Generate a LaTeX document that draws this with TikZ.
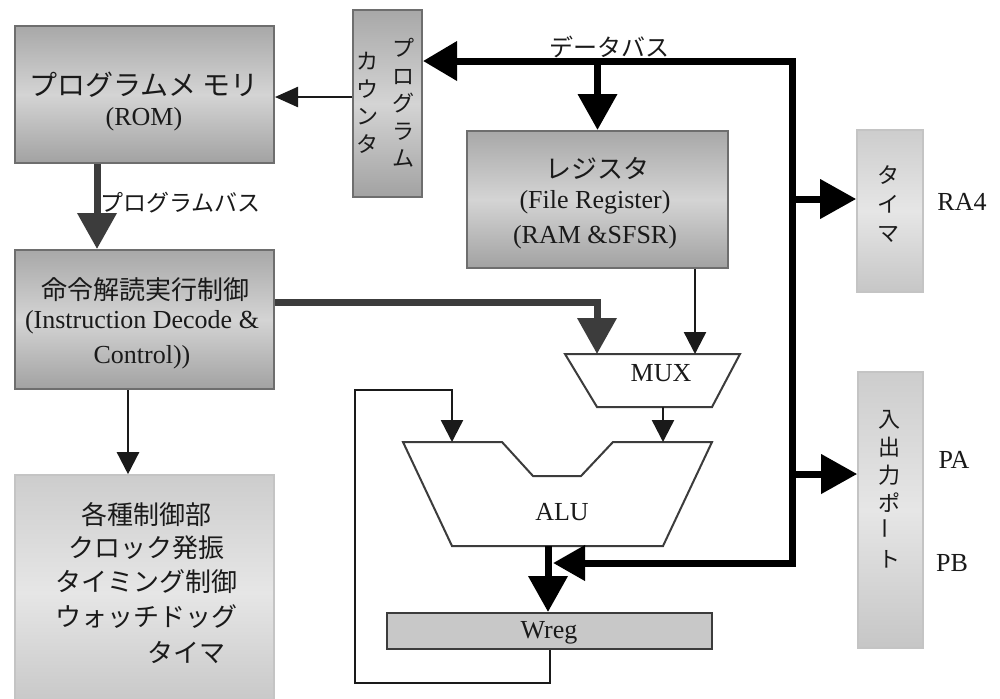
\documentclass[tikz,border=0pt]{standalone}
\usepackage{fontspec}
\usepackage{graphicx}
\setmainfont{Liberation Serif}
\newfontfamily\jp{Noto Sans CJK JP}
\usetikzlibrary{arrows.meta,fit}
\definecolor{ink}{HTML}{1A1A1A}
\definecolor{edge}{HTML}{6E6E6E}
\definecolor{lightedge}{HTML}{C4C4C4}
\definecolor{busgray}{HTML}{3C3C3C}
\definecolor{wregfill}{HTML}{C8C8C8}
\definecolor{dtop}{HTML}{A8A8A8}
\definecolor{dmid}{HTML}{D4D4D4}
\definecolor{dbot}{HTML}{A2A2A2}
\definecolor{ltop}{HTML}{CDCDCD}
\definecolor{lmid}{HTML}{E6E6E6}
\definecolor{lbot}{HTML}{C6C6C6}
\begin{document}
\begin{tikzpicture}[x=0.5pt,y=-0.5pt,
  darkbox/.style={draw=edge,line width=1pt,top color=dtop,bottom color=dbot,middle color=dmid,inner sep=0pt},
  lightbox/.style={draw=lightedge,line width=0.8pt,top color=ltop,bottom color=lbot,middle color=lmid,inner sep=0pt},
  jpt/.style={font=\jp\fontsize{13pt}{13pt}\selectfont,text=ink,inner sep=0pt},
  ent/.style={font=\fontsize{13pt}{13pt}\selectfont,text=ink,inner sep=0pt},
  vjp/.style={font=\jp\fontsize{11pt}{14pt}\selectfont,text=ink,align=center,inner sep=0pt},
  thinarrow/.style={draw=ink,line width=1.2pt,-{Triangle[length=11pt,width=11pt]}},
  thinline/.style={draw=ink,line width=1.2pt},
  bus/.style={draw=black,line width=3.5pt},
  gbus/.style={draw=busgray,line width=3.5pt},
  bigtip/.style={-{Triangle[length=18pt,width=19pt]}},
  unitshape/.style={draw=busgray,line width=1pt,fill=white,line join=miter},
]
\useasboundingbox (0,0) rectangle (1000,698);
\fill[white] (0,0) rectangle (1000,698);
\clip (0,0) rectangle (1000,698);

% boxes
\node[darkbox,fit={(15,26)(274,163)}] (rom) {};
\node[jpt,font=\jp\fontsize{14pt}{14pt}\selectfont] (romt1) at (144,85) {プログラムメ\hspace{3pt}モリ};
\node[ent] (romt2) at (144,119) {(ROM)};

\node[darkbox,fit={(353,10)(422,197)}] (pc) {};
\node[vjp,font=\jp\fontsize{11pt}{13.75pt}\selectfont] (pct1) at (403,103) {プ\\ロ\\グ\\ラ\\ム};
\node[vjp,font=\jp\fontsize{11pt}{13.75pt}\selectfont] (pct2) at (367,103) {カ\\ウ\\ン\\タ};

\node[darkbox,fit={(15,250)(274,389)}] (ins) {};
\node[jpt] (inst1) at (145,290) {命令解読実行制御};
\node[ent] (inst2) at (142,322) {(Instruction Decode \&};
\node[ent] (inst3) at (142,357) {Control))};

\node[lightbox,fit={(15,475)(274,710)}] (misc) {};
\node[jpt] (misc1) at (146,515) {各種制御部};
\node[jpt] (misc2) at (146,548) {クロック発振};
\node[jpt] (misc3) at (146,582) {タイミング制御};
\node[jpt] (misc4) at (146,617) {ウォッチドッグ};
\node[jpt] (misc5) at (186,652) {タイマ};

\node[darkbox,fit={(467,131)(728,268)}] (reg) {};
\node[jpt] (regt1) at (597,168) {レジスタ};
\node[ent] (regt2) at (595,202) {(File Register)};
\node[ent] (regt3) at (595,237) {(RAM \&SFSR)};

\node[lightbox,fit={(857,130)(923,292)}] (timer) {};
\node[vjp,font=\jp\fontsize{11pt}{14.5pt}\selectfont] (timert) at (888,204) {タ\\イ\\マ};
\node[ent] (ra4) at (962,202) {RA4};

\node[lightbox,fit={(858,372)(923,648)}] (port) {};
\node[vjp] (portt) at (889,489) {入\\出\\力\\ポ\\\rotatebox{90}{ー}\\ト};
\node[ent] (pa) at (954,460) {PA};
\node[ent] (pb) at (952,563) {PB};

% MUX and ALU
\draw[unitshape] (565,354) -- (740,354) -- (712,407) -- (597,407) -- cycle;
\node[ent] (mux) at (661,373) {MUX};
\draw[unitshape] (403,442) -- (502,442) -- (533,476) -- (581,476) -- (613,442) -- (712,442) -- (663,546) -- (452,546) -- cycle;
\node[ent] (alu) at (562,512) {ALU};

\node[draw=busgray,line width=1pt,fill=wregfill,inner sep=0pt,fit={(387,613)(712,649)}] (wreg) {};
\node[ent] (wregt) at (549,633) {Wreg};

% coordinates
\coordinate (pbx) at (97,0);
\coordinate (imc) at (597,302);
\coordinate (muxin1) at (597,354);
\coordinate (muxin2) at (695,354);
\coordinate (muxout) at (663,407);
\coordinate (aluin1) at (452,442);
\coordinate (aluin2) at (663,442);
\coordinate (aluout) at (548,546);
\coordinate (fb1) at (550,683);
\coordinate (fb2) at (355,683);
\coordinate (fb3) at (355,390);
\coordinate (fb4) at (452,390);
\coordinate (dbTR) at (792,61);
\coordinate (dbBR) at (792,563);
\coordinate (dbEnd) at (553,563);
\coordinate (tmx) at (792,199);
\coordinate (ptx) at (792,474);
\coordinate (insx) at (128,0);
\coordinate (pcy) at (0,97);

% thin connectors
\draw[thinarrow,-{Triangle[length=11.5pt,width=10pt]}] (pc.west |- pcy) -- (rom.east |- pcy);
\draw[thinarrow] (ins.south -| insx) -- (misc.north -| insx);
\draw[thinarrow] (reg.south -| muxin2) -- (muxin2);
\draw[thinarrow] (muxout) -- (aluin2);
\draw[thinarrow] (wreg.south -| fb1) -- (fb1) -- (fb2) -- (fb3) -- (fb4) -- (aluin1);

% program bus and instruction line
\draw[gbus,bigtip] (rom.south -| pbx) -- (ins.north -| pbx);
\node[jpt,font=\jp\fontsize{11.5pt}{11.5pt}\selectfont,anchor=west] (pbl) at (100,203) {プログラムバス};
\draw[gbus,bigtip] (ins.east |- imc) -- (imc) -- (muxin1);

% ALU -> Wreg
\draw[bus,bigtip] (aluout) -- (wreg.north -| aluout);

% data bus
\draw[bus,line join=miter,{Triangle[length=17pt,width=19pt]}-{Triangle[length=16pt,width=17pt]}] (pc.east |- dbTR) -- (dbTR) -- (dbBR) -- (dbEnd);
\draw[bus,bigtip] (reg.north |- dbTR) -- (reg.north);
\draw[bus,bigtip] (tmx) -- (timer.west |- tmx);
\draw[bus,bigtip] (ptx) -- (port.west |- ptx);
\node[jpt,font=\jp\fontsize{12pt}{12pt}\selectfont] (dbl) at (609,47) {データバス};
\end{tikzpicture}
\end{document}
